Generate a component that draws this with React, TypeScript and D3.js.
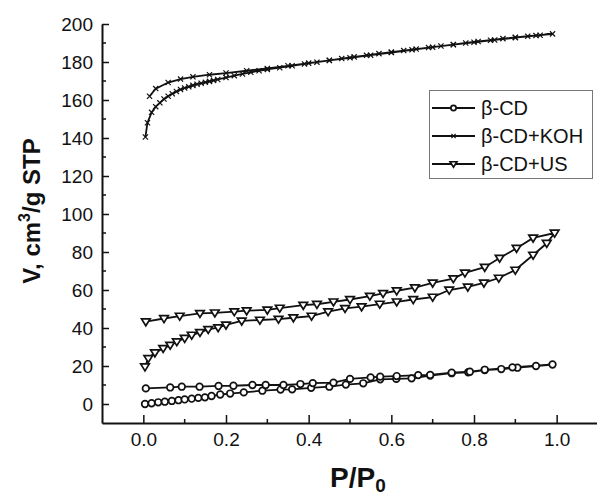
import React from 'react';
import * as d3 from 'd3';

type Pt = [number, number];

// beta-CD: adsorption (ascending) and desorption (descending) branches
const cdAds: Pt[] = [
  [0.004, 0], [0.02, 0.4], [0.036, 0.9], [0.052, 1.2], [0.069, 1.6], [0.085, 2], [0.1, 2.4],
  [0.117, 2.8], [0.133, 3.2], [0.149, 3.5], [0.165, 4.2], [0.186, 5], [0.21, 5.5], [0.243, 6.1],
  [0.288, 7], [0.332, 7.6], [0.36, 7.7], [0.406, 8.5], [0.45, 9.1], [0.49, 10.2], [0.532, 10.9],
  [0.573, 13], [0.612, 13.2], [0.649, 13.5], [0.694, 15], [0.746, 16.2], [0.786, 16.7],
  [0.826, 17.9], [0.866, 18.4], [0.905, 19.1], [0.95, 20], [0.99, 20.8],
];
const cdDes: Pt[] = [
  [0.99, 20.8], [0.893, 19.3], [0.826, 18], [0.79, 17], [0.746, 16.5], [0.694, 15.3], [0.665, 15.2],
  [0.613, 14.7], [0.573, 14.4], [0.55, 14], [0.5, 13.2], [0.46, 11.2], [0.41, 11], [0.38, 10.5],
  [0.339, 10], [0.296, 10], [0.264, 10], [0.218, 9.6], [0.182, 9.5], [0.136, 9.1], [0.093, 9.1],
  [0.065, 8.7], [0.006, 8.2],
];

// beta-CD+KOH
const kohAds: Pt[] = [
  [0.005, 140.5], [0.01, 148], [0.02, 153.5], [0.03, 156.5], [0.04, 158.5], [0.05, 160.5],
  [0.06, 162], [0.07, 163.3], [0.08, 164.5], [0.09, 165.5], [0.1, 166.3], [0.11, 167],
  [0.12, 167.7], [0.13, 168.3], [0.14, 168.8], [0.15, 169.3], [0.16, 169.8], [0.17, 170.3],
  [0.18, 170.8], [0.2, 171.8], [0.22, 172.8], [0.24, 173.7], [0.26, 174.6], [0.28, 175.4],
  [0.3, 176.1], [0.33, 177], [0.36, 178], [0.39, 179], [0.42, 179.9], [0.45, 180.9],
  [0.48, 181.8], [0.51, 182.7], [0.54, 183.5], [0.57, 184.4], [0.6, 185.2], [0.63, 186],
  [0.66, 186.8], [0.69, 187.6], [0.72, 188.4], [0.75, 189.2], [0.78, 190], [0.81, 190.8],
  [0.84, 191.5], [0.87, 192.3], [0.9, 193], [0.93, 193.6], [0.96, 194.1], [0.99, 194.8],
];
const kohDes: Pt[] = [
  [0.99, 194.8], [0.95, 193.9], [0.9, 192.8], [0.85, 191.6], [0.8, 190.4], [0.75, 189.1],
  [0.7, 187.8], [0.65, 186.4], [0.6, 185], [0.55, 183.6], [0.5, 182.2], [0.45, 180.8],
  [0.4, 179.4], [0.35, 178], [0.3, 176.6], [0.25, 175.4], [0.2, 174.2], [0.16, 173.3],
  [0.12, 172.2], [0.09, 171], [0.06, 169.2], [0.03, 166], [0.015, 162],
];

// beta-CD+US
const usAds: Pt[] = [
  [0.004, 19.6], [0.012, 24], [0.028, 27], [0.048, 29.3], [0.065, 31], [0.081, 32.8],
  [0.1, 34.6], [0.117, 36.3], [0.137, 37.7], [0.157, 39.3], [0.181, 40.2], [0.2, 41.6],
  [0.238, 43.7], [0.282, 44.2], [0.327, 44.7], [0.363, 45.4], [0.407, 46.3], [0.447, 48.6],
  [0.488, 50.3], [0.528, 51.2], [0.572, 52.6], [0.613, 53.8], [0.653, 55], [0.7, 56.3],
  [0.74, 60], [0.785, 61.6], [0.824, 63.7], [0.86, 66.3], [0.9, 70.5], [0.943, 78.4],
  [0.976, 84.6], [0.995, 90],
];
const usDes: Pt[] = [
  [0.995, 90], [0.943, 87.4], [0.903, 82], [0.862, 76.8], [0.826, 72], [0.778, 69],
  [0.75, 66], [0.7, 63.7], [0.657, 61.2], [0.613, 59.6], [0.58, 58.2], [0.548, 56.8],
  [0.5, 55], [0.46, 53.8], [0.42, 52.5], [0.387, 52], [0.33, 50.5], [0.3, 49.5], [0.25, 49.1],
  [0.22, 48.6], [0.173, 48], [0.137, 47.7], [0.088, 46.3], [0.05, 45], [0.006, 43.3],
];

const seriesNames = ['β-CD', 'β-CD+KOH', 'β-CD+US'];
const xTicks = [0, 0.2, 0.4, 0.6, 0.8, 1.0];
const yTicks = [0, 20, 40, 60, 80, 100, 120, 140, 160, 180, 200];

const W = 597;
const H = 498;
const FONT = '"Liberation Sans", Arial, sans-serif';

const App = () => {
  const ref = React.useRef<SVGSVGElement>(null);

  React.useEffect(() => {
    const svg = d3.select(ref.current);
    svg.selectAll('*').remove();

    const x = d3.scaleLinear().domain([-0.1, 1.1]).range([102, 598]);
    const y = d3.scaleLinear().domain([-10, 200]).range([423, 24]);

    const series = [
      { name: seriesNames[0], data: cdAds.concat(cdDes.slice(1)), marker: 'circle' },
      { name: seriesNames[1], data: kohAds.concat(kohDes.slice(1)), marker: 'cross' },
      { name: seriesNames[2], data: usAds.concat(usDes.slice(1)), marker: 'tri' },
    ];

    const drawMarker = (g: any, kind: string, cx: number, cy: number, s = 1) => {
      if (kind === 'circle') {
        g.append('circle').attr('cx', cx).attr('cy', cy).attr('r', 3.3 * s)
          .attr('fill', 'white').attr('stroke', '#111').attr('stroke-width', 1.7);
      } else if (kind === 'cross') {
        const r = 2.6 * s;
        g.append('path')
          .attr('d', `M${cx - r},${cy - r}L${cx + r},${cy + r}M${cx - r},${cy + r}L${cx + r},${cy - r}`)
          .attr('stroke', '#111').attr('stroke-width', 1.2).attr('fill', 'none');
      } else {
        const r = 4.3 * s;
        g.append('path')
          .attr('d', `M${cx - r},${cy - r * 0.65}L${cx + r},${cy - r * 0.65}L${cx},${cy + r * 0.95}Z`)
          .attr('fill', 'white').attr('stroke', '#111').attr('stroke-width', 1.7)
          .attr('stroke-linejoin', 'miter');
      }
    };

    const line = d3.line<Pt>().x(d => x(d[0])).y(d => y(d[1]));

    series.forEach(s => {
      svg.append('path').datum(s.data).attr('d', line)
        .attr('fill', 'none').attr('stroke', '#111').attr('stroke-width', 1.8);
    });
    series.forEach(s => {
      const g = svg.append('g');
      s.data.forEach(d => drawMarker(g, s.marker, x(d[0]), y(d[1])));
    });

    // axes
    const xAxis = svg.append('g').attr('transform', 'translate(0,423)')
      .call(d3.axisBottom(x).tickValues(xTicks).tickFormat(d3.format('.1f')).tickSizeInner(-8).tickSizeOuter(0).tickPadding(10));
    xAxis.append('g').selectAll('line').data([0.1, 0.3, 0.5, 0.7, 0.9]).join('line')
      .attr('x1', d => x(d)).attr('x2', d => x(d)).attr('y1', 0).attr('y2', -4)
      .attr('stroke', '#111').attr('stroke-width', 1.5);

    const yAxis = svg.append('g').attr('transform', 'translate(102,0)')
      .call(d3.axisLeft(y).tickValues(yTicks).tickFormat(d3.format('d')).tickSizeInner(-7).tickSizeOuter(0).tickPadding(9));
    yAxis.append('g').selectAll('line').data(d3.range(10, 200, 20)).join('line')
      .attr('y1', d => y(d)).attr('y2', d => y(d)).attr('x1', 0).attr('x2', 4)
      .attr('stroke', '#111').attr('stroke-width', 1.5);

    [xAxis, yAxis].forEach(a => {
      a.select('.domain').attr('stroke', '#111').attr('stroke-width', 2);
      a.selectAll('.tick line').attr('stroke', '#111').attr('stroke-width', 1.5);
      a.selectAll('.tick text').attr('fill', '#111').style('font-family', FONT).style('font-size', '19px');
    });
    xAxis.selectAll('.tick text').attr('dy', '0.71em').attr('y', 10);

    // axis titles
    const yt = svg.append('text').attr('transform', 'translate(40,211) rotate(-90)')
      .attr('text-anchor', 'middle').style('font-family', FONT).style('font-size', '24px')
      .style('font-weight', 'bold').attr('fill', '#111');
    yt.append('tspan').text('V, cm');
    yt.append('tspan').attr('dy', -10).style('font-size', '16px').text('3');
    yt.append('tspan').attr('dy', 10).text('/g STP');

    const xt = svg.append('text').attr('x', 330).attr('y', 487)
      .style('font-family', FONT).style('font-size', '28px')
      .style('font-weight', 'bold').attr('fill', '#111');
    xt.append('tspan').text('P/P');
    xt.append('tspan').attr('dy', 5).style('font-size', '19px').text('0');

    // legend
    const lg = svg.append('g');
    lg.append('rect').attr('x', 429.5).attr('y', 90.5).attr('width', 163).attr('height', 88)
      .attr('fill', 'white').attr('stroke', '#777').attr('stroke-width', 1);
    series.forEach((s, i) => {
      const yy = 108 + i * 28;
      lg.append('line').attr('x1', 432).attr('x2', 475).attr('y1', yy).attr('y2', yy)
        .attr('stroke', '#111').attr('stroke-width', 2);
      drawMarker(lg, s.marker, 453.5, yy, 0.8);
      lg.append('text').attr('x', 481).attr('y', yy).attr('dy', '0.36em')
        .style('font-family', FONT).style('font-size', '20px').attr('fill', '#111').text(s.name);
    });
  }, []);

  return (
    <svg ref={ref} width={W} height={H}
      style={{ position: 'absolute', left: 0, top: 0, background: 'white' }} />
  );
};

export default App;
